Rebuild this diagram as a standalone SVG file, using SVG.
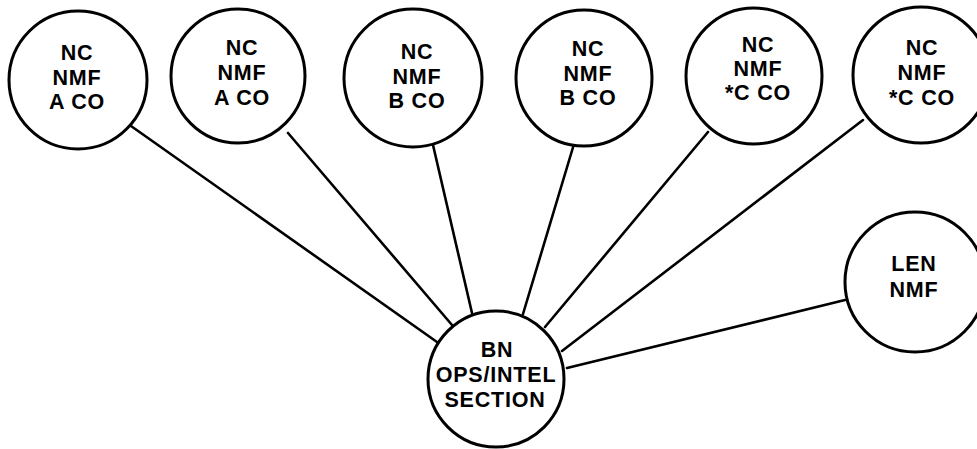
<svg xmlns="http://www.w3.org/2000/svg" width="977" height="449" viewBox="0 0 977 449">
  <style>
    .node circle { fill: #ffffff; stroke: #000000; stroke-width: 3; }
    .node text { font-family: "Liberation Sans", Arial, sans-serif; font-weight: bold; font-size: 21.5px; letter-spacing: 0.8px; fill: #000000; text-anchor: middle; }
    .links line { stroke: #000000; stroke-width: 2.6; stroke-linecap: round; }
  </style>
  <rect width="977" height="449" fill="#ffffff"/>

  <!-- connectors from the section to each unit -->
  <g id="links" class="links">
    <line x1="131" y1="126" x2="437" y2="342"/>
    <line x1="288" y1="133" x2="452" y2="325"/>
    <line x1="433" y1="145" x2="472" y2="313"/>
    <line x1="574" y1="144" x2="523" y2="314"/>
    <line x1="708" y1="132" x2="545" y2="327"/>
    <line x1="863" y1="120" x2="562" y2="351"/>
    <line x1="845" y1="300" x2="567" y2="368"/>
  </g>

  <g id="nc-a1" class="node">
    <circle cx="78" cy="80" r="69"/>
    <text x="77" y="60">NC</text>
    <text x="77" y="85">NMF</text>
    <text x="77" y="109">A CO</text>
  </g>
  <g id="nc-a2" class="node">
    <circle cx="238" cy="76" r="67"/>
    <text x="242" y="55">NC</text>
    <text x="242" y="80">NMF</text>
    <text x="242" y="105">A CO</text>
  </g>
  <g id="nc-b1" class="node">
    <circle cx="413" cy="78" r="69"/>
    <text x="417" y="59">NC</text>
    <text x="417" y="84">NMF</text>
    <text x="417" y="108">B CO</text>
  </g>
  <g id="nc-b2" class="node">
    <circle cx="584" cy="78" r="68"/>
    <text x="588" y="56">NC</text>
    <text x="588" y="81">NMF</text>
    <text x="588" y="105">B CO</text>
  </g>
  <g id="nc-c1" class="node">
    <circle cx="754" cy="76" r="68"/>
    <text x="758" y="52">NC</text>
    <text x="758" y="76">NMF</text>
    <text x="758" y="100">*C CO</text>
  </g>
  <g id="nc-c2" class="node">
    <circle cx="921" cy="75" r="68"/>
    <text x="922" y="55">NC</text>
    <text x="922" y="80">NMF</text>
    <text x="922" y="105">*C CO</text>
  </g>
  <g id="len-nmf" class="node">
    <circle cx="915" cy="282" r="70"/>
    <text x="914" y="271">LEN</text>
    <text x="914" y="297">NMF</text>
  </g>
  <g id="bn-section" class="node">
    <circle cx="496" cy="379" r="68"/>
    <text x="497" y="357">BN</text>
    <text x="496" y="382">OPS/INTEL</text>
    <text x="495" y="407">SECTION</text>
  </g>
</svg>
